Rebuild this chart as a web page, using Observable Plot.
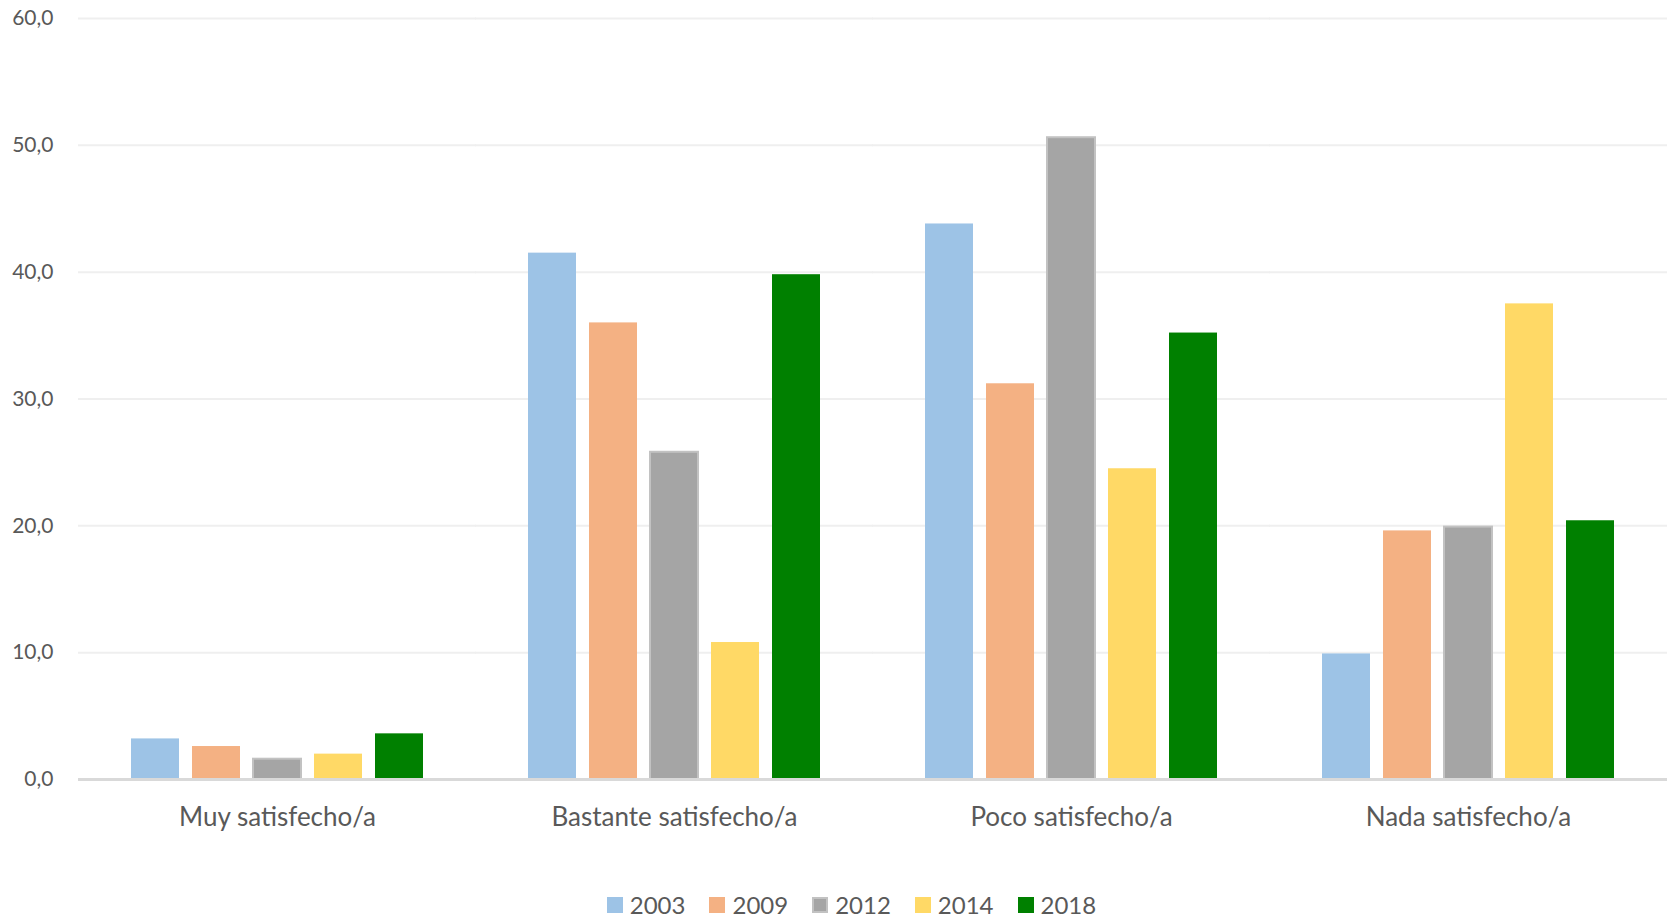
<!DOCTYPE html>
<html>
<head>
<meta charset="utf-8">
<script src="https://cdn.jsdelivr.net/npm/d3@7"></script>
<script src="https://cdn.jsdelivr.net/npm/@observablehq/plot@0.6"></script>
<style>
  html, body { margin: 0; padding: 0; background: #ffffff; }
  #chart { width: 1667px; }
  .legend { display: flex; justify-content: center; align-items: center; height: 49px; padding-top: 21px; padding-left: 36px; box-sizing: border-box; font-family: Lato, "Open Sans", sans-serif; font-size: 24px; color: #595959; }
  .legend .item { display: flex; align-items: center; margin: 0 12px; line-height: 1; }
  .legend .sw { width: 16px; height: 16px; margin-right: 7px; box-sizing: border-box; }
</style>
</head>
<body>
<div id="chart"></div>
<script>
const categories = ["Muy satisfecho/a", "Bastante satisfecho/a", "Poco satisfecho/a", "Nada satisfecho/a"];
const years = ["2003", "2009", "2012", "2014", "2018"];
const values2003 = [3.2, 41.5, 43.8, 9.9];
const values2009 = [2.6, 36.0, 31.2, 19.6];
const values2012 = [1.6, 25.8, 50.6, 19.9];
const values2014 = [2.0, 10.8, 24.5, 37.5];
const values2018 = [3.6, 39.8, 35.2, 20.4];
const colors = ["#9DC3E6", "#F4B183", "#A5A5A5", "#FFD966", "#008000"];
const yTicks = [0, 10, 20, 30, 40, 50, 60];

const series = [values2003, values2009, values2012, values2014, values2018];
const data = [];
categories.forEach((c, i) => {
  years.forEach((y, j) => data.push({category: c, year: y, value: series[j][i]}));
});

const fmt = d => d.toFixed(1).replace(".", ",");

const plot = Plot.plot({
  width: 1667,
  height: 870,
  marginLeft: 78,
  marginRight: 0,
  marginTop: 18,
  marginBottom: 91,
  style: {fontFamily: "Lato, 'Open Sans', sans-serif", color: "#595959", background: "#ffffff"},
  fx: {domain: categories, paddingInner: 0.19, paddingOuter: 0.095, label: null, tickSize: 0, tickPadding: 28, axis: "bottom"},
  x: {domain: years, padding: 0.22, axis: null},
  y: {domain: [0, 60], ticks: yTicks, tickFormat: fmt, tickSize: 0, tickPadding: 63, label: null},
  color: {domain: years, range: colors},
  marks: [
    Plot.ruleY(yTicks.filter(t => t > 0), {stroke: "#efefef", strokeWidth: 2, insetLeft: -38, insetRight: -38}),
    Plot.barY(data, {
      fx: "category", x: "year", y: "value", fill: "year",
      stroke: d => d.year === "2012" ? "#c2c2c2" : "none", strokeWidth: 2
    }),
    Plot.ruleY([0], {stroke: "#d9d9d9", strokeWidth: 3, insetLeft: -38, insetRight: -38})
  ]
});

// style axis text sizes by content
const tickLabels = new Set(yTicks.map(fmt));
const catSet = new Set(categories);
d3.select(plot).selectAll("text").each(function() {
  const t = this.textContent;
  if (tickLabels.has(t)) { this.style.fontSize = "21px"; this.style.fill = "#595959"; }
  else if (catSet.has(t)) { this.style.fontSize = "26px"; this.style.fill = "#595959"; }
});
document.getElementById("chart").appendChild(plot);

// legend
const legend = document.createElement("div");
legend.className = "legend";
years.forEach((y, i) => {
  const item = document.createElement("div");
  item.className = "item";
  const sw = document.createElement("div");
  sw.className = "sw";
  sw.style.background = colors[i];
  if (y === "2012") sw.style.border = "2px solid #c2c2c2";
  const t = document.createElement("span");
  t.textContent = y;
  item.appendChild(sw);
  item.appendChild(t);
  legend.appendChild(item);
});
document.getElementById("chart").appendChild(legend);
</script>
</body>
</html>
